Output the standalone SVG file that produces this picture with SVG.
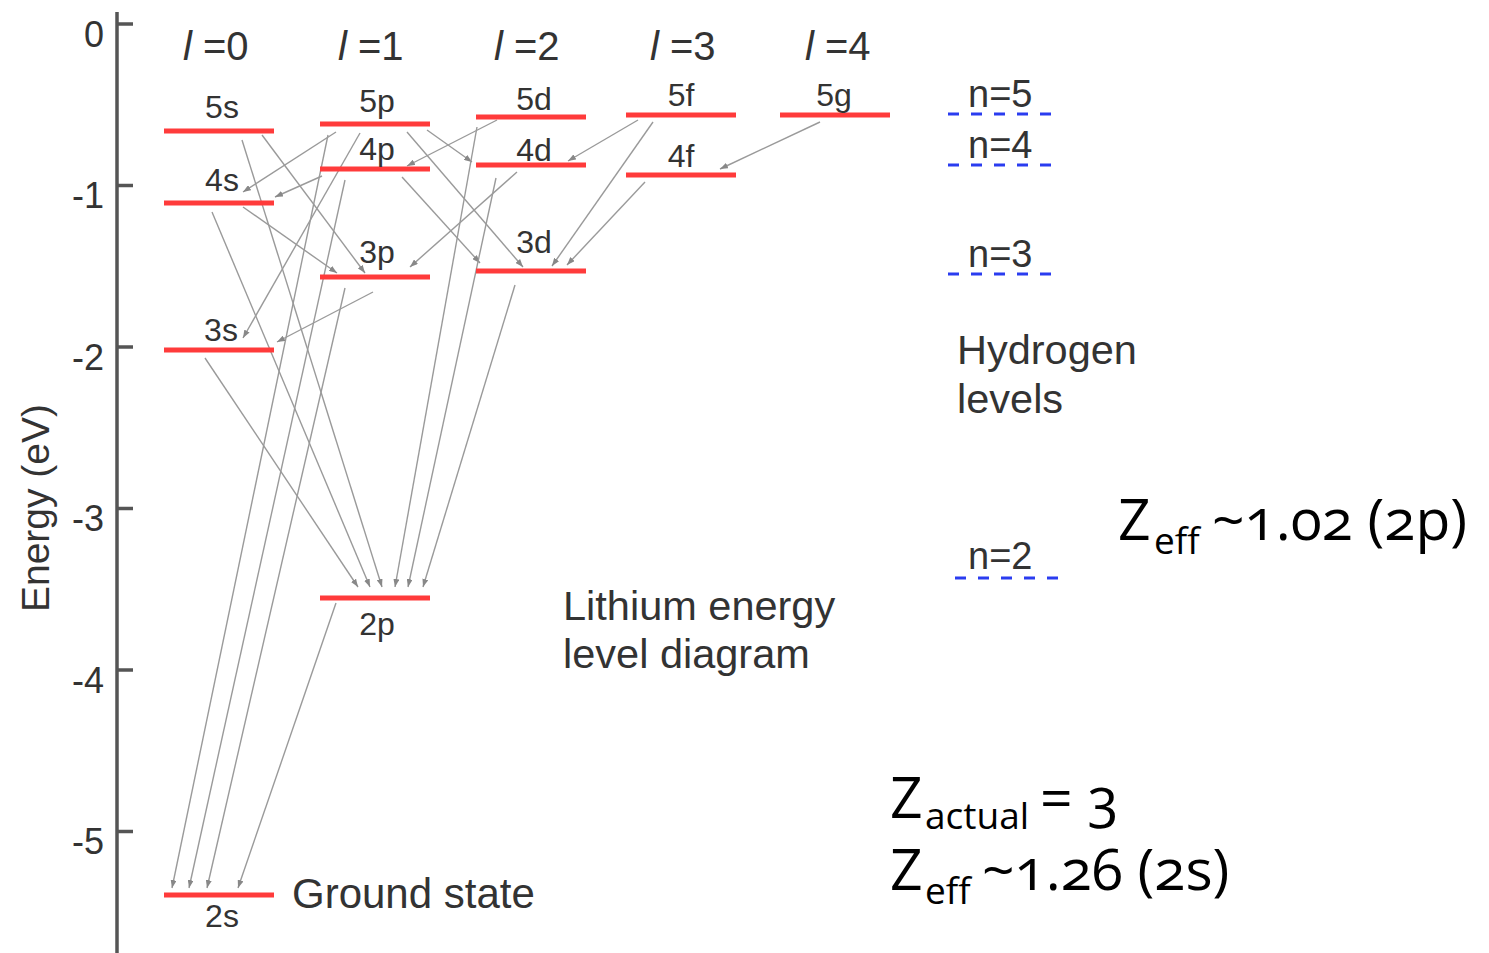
<svg xmlns="http://www.w3.org/2000/svg" width="1489" height="953" viewBox="0 0 1489 953">
<style>
.lbl{font-family:"Liberation Sans",Arial,sans-serif;fill:#333}
.lv{font-size:32px;text-anchor:middle}
.lq{font-size:40px}
.tk{font-size:36px;text-anchor:end}
.big{font-size:41.5px}
.hn{font-size:38px}
.lev{stroke:#ff3b3b;stroke-width:5}
.hyd{stroke:#2a3cf0;stroke-width:3;stroke-dasharray:11 12}
.tr{stroke:#9a9a9a;stroke-width:1.4;fill:none;marker-end:url(#ah)}
.axis{stroke:#555;stroke-width:3.5}
.zt{font-family:"Open Sans","Noto Sans",sans-serif;font-size:57px;fill:#000;font-variant-numeric:oldstyle-nums}
.zs{font-size:37px}
</style>
<defs>
<marker id="ah" markerUnits="userSpaceOnUse" markerWidth="8" markerHeight="6" refX="8" refY="3" orient="auto">
<path d="M0,0 L8,3 L0,6 z" fill="#888"/>
</marker>
</defs>
<rect width="1489" height="953" fill="#fff"/>

<g id="axis">
<line class="axis" x1="117" y1="12" x2="117" y2="953"/>
<line class="axis" x1="117" y1="24" x2="133" y2="24"/>
<line class="axis" x1="117" y1="185.5" x2="133" y2="185.5"/>
<line class="axis" x1="117" y1="347" x2="133" y2="347"/>
<line class="axis" x1="117" y1="508.5" x2="133" y2="508.5"/>
<line class="axis" x1="117" y1="670" x2="133" y2="670"/>
<line class="axis" x1="117" y1="831.5" x2="133" y2="831.5"/>
<text class="lbl tk" x="104" y="47">0</text>
<text class="lbl tk" x="104" y="208">-1</text>
<text class="lbl tk" x="104" y="370">-2</text>
<text class="lbl tk" x="104" y="531">-3</text>
<text class="lbl tk" x="104" y="693">-4</text>
<text class="lbl tk" x="104" y="854">-5</text>
<text class="lbl" font-size="39" text-anchor="middle" transform="translate(49,508) rotate(-90)">Energy (eV)</text>
</g>

<g id="l-headers">
<text class="lbl lq" x="183" y="60"><tspan font-style="italic">l</tspan> =0</text>
<text class="lbl lq" x="338" y="60"><tspan font-style="italic">l</tspan> =1</text>
<text class="lbl lq" x="494" y="60"><tspan font-style="italic">l</tspan> =2</text>
<text class="lbl lq" x="650" y="60"><tspan font-style="italic">l</tspan> =3</text>
<text class="lbl lq" x="805" y="60"><tspan font-style="italic">l</tspan> =4</text>
</g>

<g id="connectors">
<line class="tr" x1="242" y1="140" x2="382" y2="587"/>
<line class="tr" x1="262" y1="135" x2="365" y2="273"/>
<line class="tr" x1="212" y1="212" x2="370" y2="587"/>
<line class="tr" x1="243" y1="207" x2="337" y2="273"/>
<line class="tr" x1="205" y1="358" x2="358" y2="587"/>
<line class="tr" x1="336" y1="132" x2="243" y2="192"/>
<line class="tr" x1="360" y1="133" x2="243" y2="338"/>
<line class="tr" x1="328" y1="135" x2="172" y2="888"/>
<line class="tr" x1="322" y1="176" x2="275" y2="197"/>
<line class="tr" x1="345" y1="180" x2="189" y2="888"/>
<line class="tr" x1="373" y1="292" x2="277" y2="342"/>
<line class="tr" x1="345" y1="288" x2="207" y2="888"/>
<line class="tr" x1="336" y1="603" x2="238" y2="888"/>
<line class="tr" x1="427" y1="130" x2="472" y2="162"/>
<line class="tr" x1="407" y1="132" x2="523" y2="267"/>
<line class="tr" x1="402" y1="177" x2="480" y2="263"/>
<line class="tr" x1="497" y1="120" x2="407" y2="166"/>
<line class="tr" x1="477" y1="127" x2="395" y2="587"/>
<line class="tr" x1="517" y1="172" x2="410" y2="267"/>
<line class="tr" x1="496" y1="178" x2="408" y2="587"/>
<line class="tr" x1="515" y1="285" x2="423" y2="587"/>
<line class="tr" x1="638" y1="120" x2="568" y2="161"/>
<line class="tr" x1="653" y1="122" x2="552" y2="266"/>
<line class="tr" x1="645" y1="182" x2="567" y2="265"/>
<line class="tr" x1="820" y1="122" x2="720" y2="169"/>
</g>

<g id="lev-5s"><line class="lev" x1="164" y1="131" x2="274" y2="131"/><text class="lbl lv" x="222" y="118">5s</text></g>
<g id="lev-4s"><line class="lev" x1="164" y1="203" x2="274" y2="203"/><text class="lbl lv" x="222" y="191">4s</text></g>
<g id="lev-3s"><line class="lev" x1="164" y1="350" x2="274" y2="350"/><text class="lbl lv" x="221" y="341">3s</text></g>
<g id="lev-2s"><line class="lev" x1="164" y1="895" x2="274" y2="895"/><text class="lbl lv" x="222" y="927">2s</text></g>
<g id="lev-5p"><line class="lev" x1="320" y1="124" x2="430" y2="124"/><text class="lbl lv" x="377" y="112">5p</text></g>
<g id="lev-4p"><line class="lev" x1="320" y1="169" x2="430" y2="169"/><text class="lbl lv" x="377" y="160">4p</text></g>
<g id="lev-3p"><line class="lev" x1="320" y1="277" x2="430" y2="277"/><text class="lbl lv" x="377" y="263">3p</text></g>
<g id="lev-2p"><line class="lev" x1="320" y1="598" x2="430" y2="598"/><text class="lbl lv" x="377" y="635">2p</text></g>
<g id="lev-5d"><line class="lev" x1="476" y1="117" x2="586" y2="117"/><text class="lbl lv" x="534" y="110">5d</text></g>
<g id="lev-4d"><line class="lev" x1="476" y1="165" x2="586" y2="165"/><text class="lbl lv" x="534" y="161">4d</text></g>
<g id="lev-3d"><line class="lev" x1="476" y1="271" x2="586" y2="271"/><text class="lbl lv" x="534" y="253">3d</text></g>
<g id="lev-5f"><line class="lev" x1="626" y1="115" x2="736" y2="115"/><text class="lbl lv" x="681" y="106">5f</text></g>
<g id="lev-4f"><line class="lev" x1="626" y1="175" x2="736" y2="175"/><text class="lbl lv" x="681" y="167">4f</text></g>
<g id="lev-5g"><line class="lev" x1="780" y1="115" x2="890" y2="115"/><text class="lbl lv" x="834" y="106">5g</text></g>

<g id="ground-label"><text class="lbl" font-size="42" x="292" y="908">Ground state</text></g>
<g id="lithium-label"><text class="lbl big" x="563" y="620">Lithium energy</text><text class="lbl big" x="563" y="668">level diagram</text></g>

<g id="h-n5"><line class="hyd" x1="948" y1="114" x2="1058" y2="114"/><text class="lbl hn" x="968" y="107">n=5</text></g>
<g id="h-n4"><line class="hyd" x1="948" y1="165" x2="1058" y2="165"/><text class="lbl hn" x="968" y="158">n=4</text></g>
<g id="h-n3"><line class="hyd" x1="948" y1="274" x2="1058" y2="274"/><text class="lbl hn" x="968" y="267">n=3</text></g>
<g id="h-n2"><line class="hyd" x1="955" y1="578" x2="1065" y2="578"/><text class="lbl hn" x="968" y="569">n=2</text></g>
<g id="hydrogen-label"><text class="lbl big" x="957" y="364">Hydrogen</text><text class="lbl big" x="957" y="413">levels</text></g>

<g id="zeff-2p"><text class="zt"><tspan x="1118" y="540">Z</tspan><tspan class="zs" x="1154" y="554">eff</tspan><tspan x="1212" y="540">~1.02 (2p)</tspan></text></g>
<g id="zactual"><text class="zt"><tspan x="890" y="818">Z</tspan><tspan class="zs" x="925" y="829">actual</tspan><tspan x="1040" y="818">= 3</tspan></text></g>
<g id="zeff-2s"><text class="zt" font-size="58"><tspan x="890" y="890">Z</tspan><tspan class="zs" x="925" y="904">eff</tspan><tspan x="982" y="890">~1.26 (2s)</tspan></text></g>
</svg>
